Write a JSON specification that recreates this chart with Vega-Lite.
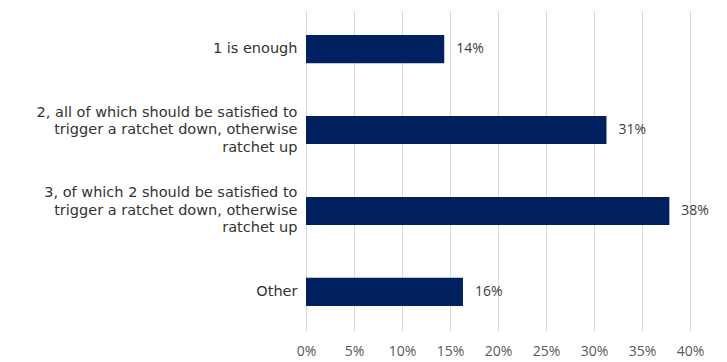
{
  "$schema": "https://vega.github.io/schema/vega-lite/v6.json",
  "autosize": "none",
  "width": 384,
  "height": 321,
  "padding": {"left": 306, "top": 10, "right": 37, "bottom": 31},
  "background": "white",
  "config": {"view": {"stroke": null}},
  "data": {
    "values": [
      {"option": "1 is enough", "share": 0.144},
      {"option": "2, all of which should be satisfied to|trigger a ratchet down, otherwise|ratchet up", "share": 0.313},
      {"option": "3, of which 2 should be satisfied to|trigger a ratchet down, otherwise|ratchet up", "share": 0.3785},
      {"option": "Other", "share": 0.1635}
    ]
  },
  "encoding": {
    "y": {
      "field": "option",
      "type": "nominal",
      "sort": null,
      "title": null,
      "scale": {"paddingInner": 0.653, "paddingOuter": 0.31},
      "axis": {
        "domain": false,
        "ticks": false,
        "grid": false,
        "labelExpr": "split(datum.label, '|')",
        "labelFont": "DejaVu Sans",
        "labelFontSize": 14.5,
        "labelLineHeight": 17.5,
        "labelColor": "#333333",
        "labelPadding": 9,
        "labelLimit": 320,
        "labelBaseline": "middle",
        "labelOffset": {"expr": "length(split(datum.value, '|')) > 1 ? -17.5 : 0"}
      }
    },
    "x": {
      "field": "share",
      "type": "quantitative",
      "title": null,
      "scale": {"domain": [0, 0.4], "nice": false},
      "axis": {
        "format": ".0%",
        "values": [0, 0.05, 0.1, 0.15, 0.2, 0.25, 0.3, 0.35, 0.4],
        "domain": false,
        "ticks": false,
        "grid": true,
        "gridColor": "#d9d9d9",
        "gridWidth": 1,
        "labelFlush": false,
        "labelFont": "Open Sans",
        "labelFontSize": 14,
        "labelColor": "#595959",
        "labelPadding": 13
      }
    }
  },
  "layer": [
    {"mark": {"type": "bar", "color": "#002060"}},
    {
      "mark": {"type": "text", "align": "left", "baseline": "middle", "dx": 12, "font": "Open Sans", "fontSize": 14, "color": "#404040"},
      "encoding": {"text": {"field": "share", "type": "quantitative", "format": ".0%"}}
    }
  ]
}
